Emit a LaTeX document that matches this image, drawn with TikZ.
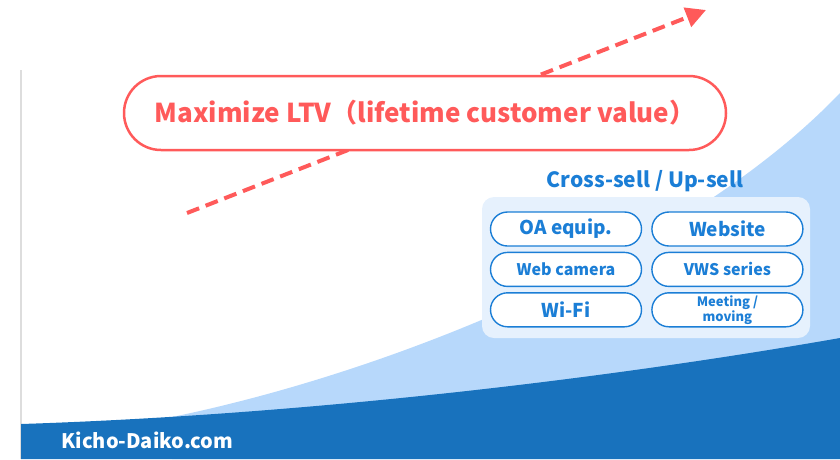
\documentclass[tikz,border=0pt]{standalone}
\usepackage{fontspec}
\setmainfont{Noto Sans CJK JP}
\usepackage{tikz}
\usetikzlibrary{arrows.meta,positioning}
\definecolor{ltvred}{RGB}{255,90,90}
\definecolor{dkblue}{RGB}{24,114,189}
\definecolor{ltblue}{RGB}{183,216,251}
\definecolor{panelblue}{RGB}{230,241,253}
\definecolor{txtblue}{RGB}{27,126,214}
\definecolor{edgegray}{RGB}{221,221,221}
\tikzstyle{item} = [rectangle, rounded corners=17pt, minimum width=151pt, minimum height=34pt, inner sep=0pt, align=center, draw=txtblue, fill=white, line width=1.4pt, text=txtblue, font=\bfseries]
\tikzstyle{goal} = [rectangle, rounded corners=37pt, minimum width=602pt, minimum height=74pt, draw=ltvred, fill=white, line width=2.5pt, text=ltvred, font=\fontsize{26}{30}\selectfont\bfseries]
\tikzstyle{growth} = [line width=4pt, dash pattern=on 13pt off 7pt, ltvred, -{Triangle[length=20pt,width=20pt]}]

\begin{document}
\begin{tikzpicture}[x=1pt, y=-1pt]
\useasboundingbox (0,0) rectangle (840,459);
% Background areas
\draw[edgegray, line width=1.5pt] (21,70) -- (21,459);
\fill[ltblue] (172,417) .. controls (400,370) and (690,250) .. (840,93) -- (840,459) -- (172,459) -- cycle;
\fill[dkblue] (21,424) .. controls (300,415) and (600,380) .. (840,338) -- (840,459) -- (21,459) -- cycle;

% Growth arrow behind the goal
\coordinate (arrstart) at (187,213);
\coordinate (arrtip) at (706,10);
\draw[growth] (arrstart) -- (arrtip);
\node (ltv) [goal] at (425,113) {Maximize LTV（lifetime customer value）};

% Cross-sell panel
\fill[panelblue, rounded corners=12pt] (482,197) rectangle (810,338);
\node (xsell) [text=txtblue, font=\fontsize{21}{25}\selectfont\bfseries] at (645,181) {Cross-sell / Up-sell};
\node (oa) [item, font=\fontsize{19}{22}\selectfont\bfseries] at (566,229) {OA equip.};
\node (site) [item, right=9pt of oa, font=\fontsize{19}{22}\selectfont\bfseries] {Website};
\node (cam) [item, below=5pt of oa, font=\fontsize{16}{19}\selectfont\bfseries] {Web camera};
\node (vws) [item, below=5pt of site, font=\fontsize{16}{19}\selectfont\bfseries] {VWS series};
\node (wifi) [item, below=5pt of cam, font=\fontsize{19}{22}\selectfont\bfseries] {Wi-Fi};
\node (move) [item, below=5pt of vws, font=\fontsize{13}{15}\selectfont\bfseries] {Meeting /\\moving};

% Footer
\node (site name) [anchor=west, text=white, font=\fontsize{20}{24}\selectfont\bfseries] at (58,440) {Kicho-Daiko.com};
\end{tikzpicture}
\end{document}
